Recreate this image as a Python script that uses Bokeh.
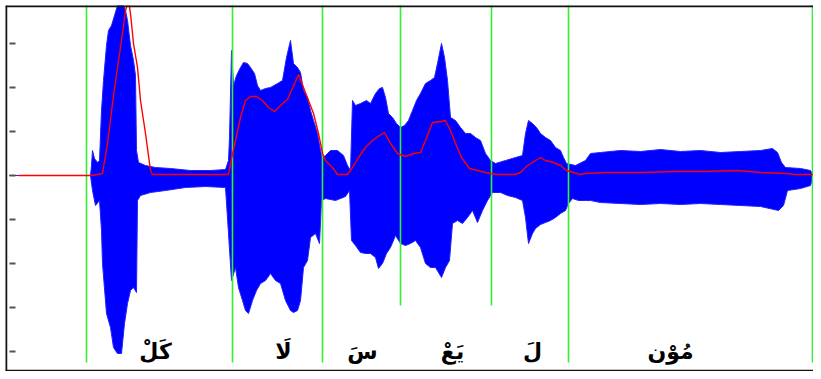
from bokeh.plotting import figure
from bokeh.models import Range1d
from bokeh.embed import file_html
from bokeh.resources import INLINE
from bokeh.core.properties import value

# ---- data (time in frames, amplitude in arbitrary units) ----
upper_t = [9, 90, 91, 92, 94, 97, 99, 101, 103, 106, 108, 111, 114, 117, 120, 123, 125, 127, 130, 133, 135, 136,
           138, 145, 155, 170, 190, 210, 225, 228, 229, 231, 233, 236, 240, 243, 247, 250, 254, 257, 260, 265,
           270, 277, 282, 286, 290, 293, 297, 300, 303, 307, 310, 313, 317, 320, 322, 325, 330, 337, 343, 347,
           350, 352, 355, 360, 366, 370, 375, 379, 382, 385, 388, 392, 396, 400, 404, 408, 412, 416, 420, 425,
           430, 434, 437, 441, 444, 447, 450, 455, 460, 465, 470, 475, 480, 485, 490, 495, 505, 515, 522, 525,
           528, 532, 536, 540, 545, 550, 555, 560, 563, 566, 575, 585, 590, 600, 620, 640, 660, 680, 700, 720,
           740, 760, 772, 777, 781, 785, 800, 810, 813, 818]
upper_amp = [0, 0, 10, 25, 17, 13, 15, 65, 95, 130, 145, 150, 160, 170, 170, 170, 165, 155, 130, 115, 100, 25,
             13, 10, 8, 7, 5, 5, 6, 15, 38, 125, 90, 100, 108, 113, 112, 108, 102, 90, 85, 87,
             88, 92, 95, 118, 135, 112, 108, 103, 85, 78, 65, 55, 42, 25, 18, 20, 25, 25, 20, 10,
             5, 75, 70, 72, 75, 72, 82, 87, 88, 78, 62, 58, 52, 48, 50, 55, 65, 75, 82, 92,
             95, 98, 112, 132, 118, 95, 58, 55, 48, 42, 42, 38, 35, 22, 15, 12, 15, 18, 20, 42,
             55, 52, 48, 42, 38, 35, 28, 25, 18, 12, 10, 15, 22, 23, 25, 24, 26, 24, 25, 23,
             24, 25, 27, 23, 13, 8, 7, 5, 0, 0]

lower_t = [9, 90, 92, 95, 99, 101, 102, 106, 110, 113, 117, 121, 124, 127, 130, 133, 136, 137, 140, 150, 165,
           185, 205, 225, 228, 231, 235, 238, 242, 245, 248, 252, 256, 260, 265, 270, 275, 280, 285, 290,
           293, 297, 300, 303, 307, 310, 315, 319, 321, 325, 335, 345, 349, 351, 355, 360, 365, 370, 375,
           378, 382, 386, 390, 395, 400, 405, 410, 415, 420, 425, 430, 435, 441, 445, 449, 452, 457, 462,
           467, 472, 477, 482, 487, 492, 500, 507, 515, 522, 525, 528, 532, 535, 540, 545, 550, 555, 560,
           565, 568, 572, 578, 585, 590, 600, 620, 640, 660, 680, 700, 720, 740, 760, 778, 783, 787, 800,
           810, 813, 818]
lower_amp = [0, 0, -15, -30, -25, -55, -88, -138, -152, -172, -178, -178, -148, -128, -115, -112, -117, -25, -20, -17, -15,
             -12, -11, -12, -58, -105, -92, -112, -125, -135, -138, -125, -115, -108, -105, -98, -105, -108, -125, -135,
             -137, -135, -125, -92, -85, -62, -58, -68, -25, -23, -25, -21, -15, -65, -70, -77, -78, -78, -82,
             -93, -88, -78, -72, -60, -68, -70, -68, -65, -72, -88, -92, -92, -102, -92, -85, -48, -45, -48,
             -42, -35, -47, -35, -25, -17, -17, -20, -22, -25, -42, -68, -58, -53, -49, -47, -45, -42, -38,
             -35, -28, -23, -25, -25, -25, -27, -28, -29, -28, -29, -28, -29, -30, -31, -35, -30, -15, -13,
             -10, 0, 0]

energy_t = [18, 90, 97, 102, 107, 112, 117, 122, 125, 128, 130, 133, 137, 140, 145, 150, 152, 228, 230, 235,
            240, 245, 250, 256, 262, 268, 274, 280, 287, 298, 303, 308, 313, 318, 322, 325, 332, 337, 347,
            352, 358, 365, 372, 379, 384, 390, 397, 405, 413, 420, 425, 432, 441, 445, 450, 455, 461, 469,
            477, 485, 490, 497, 514, 520, 527, 540, 545, 553, 560, 566, 573, 580, 585, 605, 640, 675, 700,
            738, 760, 785, 795, 818]
energy = [0, 0, 1, 2, 32, 72, 108, 142, 165, 175, 162, 132, 108, 75, 42, 5, 1, 1, 12, 35,
          58, 75, 79, 79, 75, 68, 64, 70, 76, 101, 88, 75, 62, 42, 22, 15, 8, 1, 1,
          8, 18, 28, 35, 40, 43, 32, 22, 19, 22, 23, 35, 53, 54, 55, 45, 32, 18, 7,
          5, 3, 2, 1, 1, 3, 10, 18, 15, 13, 10, 5, 3, 1, 2, 3, 3, 4, 4,
          5, 3, 2, 1, 1]

boundary_t = [86, 232, 322, 400, 491, 568, 812]
boundary_bottom = [-187, -187, -187, -130, -130, -187, -187]

syllables = ["كَلْ", "لَا", "سَ", "يَعْ", "لَ", "مُوْن"]
syllable_t = [155, 283, 362, 452, 532, 670]
syllable_y = [-176, -176, -176, -176, -176, -176]

tick_vals = [132, 88, 44, 0, -44, -88, -132, -176]

# ---- figure ----
T0, T1 = 5, 813
A0, A1 = -196, 170
p = figure(width=813, height=371, output_backend="svg", toolbar_location=None,
           x_range=Range1d(T0, T1), y_range=Range1d(A0, A1),
           x_axis_location=None, y_axis_location=None,
           min_border_left=5, min_border_top=5, min_border_right=0, min_border_bottom=0)
p.grid.grid_line_color = None
p.outline_line_color = None
p.background_fill_color = "white"
p.border_fill_color = "white"

# waveform envelope
wave_x = upper_t + lower_t[::-1]
wave_y = upper_amp + lower_amp[::-1]
p.patch(wave_x, wave_y, fill_color="#0000FF", line_color="#2020FF", line_width=1)

# tick dashes on the left edge
p.segment(x0=[T0 + 4] * len(tick_vals), x1=[T0 + 10] * len(tick_vals), y0=tick_vals, y1=tick_vals,
          line_color="#555555", line_width=2)

# syllable boundaries
p.segment(x0=boundary_t, x1=boundary_t, y0=[A1 + 5] * len(boundary_t), y1=boundary_bottom,
          line_color="#33EE33", line_width=1.6)

# energy curve
p.line(energy_t, energy, line_color="#FF0000", line_width=1.4)

# syllable labels
p.text(x=syllable_t, y=syllable_y, text=syllables, text_align="center", text_baseline="middle",
       text_font=value("DejaVu Sans"), text_font_size="22px", text_font_style="bold", text_color="black")

# frame border (left, top, bottom)
p.segment(x0=[T0, T0, T0], y0=[A0, A1, A0], x1=[T0, T1, T1], y1=[A1, A1, A0],
          line_color="#111111", line_width=3.5)

open("out.html", "w").write(file_html(p, INLINE))
